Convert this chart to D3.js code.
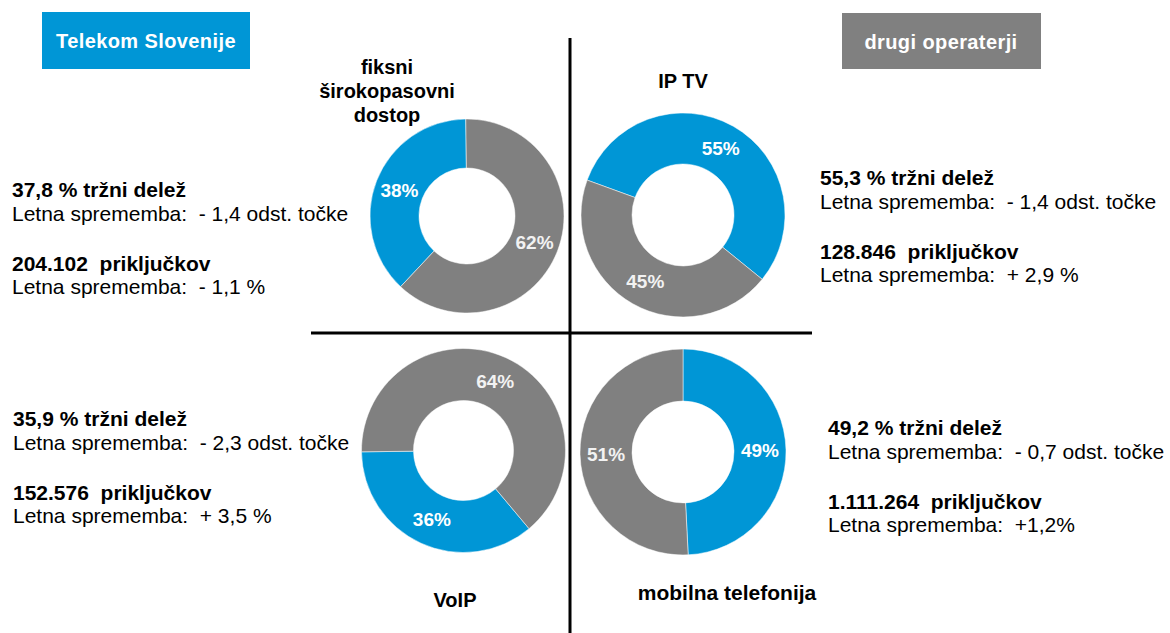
<!DOCTYPE html>
<html>
<head>
<meta charset="utf-8">
<script src="https://cdn.jsdelivr.net/npm/d3@7"></script>
<style>
  body { margin: 0; background: #fff; }
  text { font-family: "Liberation Sans", Arial, sans-serif; white-space: pre; }
</style>
</head>
<body>
<div id="chart"></div>
<script>
// Tržni deleži - Telekom Slovenije vs drugi operaterji

// Pt. 0 - DATA
const titleLines = [["fiksni", "širokopasovni", "dostop"], ["IP TV"], ["VoIP"], ["mobilna telefonija"]];
const telekomShare = [37.8, 55.3, 35.9, 49.2];
const drugiShare = [62.2, 44.7, 64.1, 50.8];
const shareChange = ["- 1,4 odst. točke", "- 1,4 odst. točke", "- 2,3 odst. točke", "- 0,7 odst. točke"];
const connections = ["204.102", "128.846", "152.576", "1.111.264"];
const connChange = ["- 1,1 %", "+ 2,9 %", "+ 3,5 %", "+1,2%"];
const groups = ["Telekom Slovenije", "drugi operaterji"];

// Pt. 1 - TYPE SETTING
const width = 1170, height = 633;
const blue = "#0096d6", gray = "#808080";

// where each donut sits, and where its slices start (degrees, clockwise from top)
const layout = [
    { cx: 467, cy: 216, r: 97, ir: 48, start: -136.8, tx: 387, ty: 74, px: 12, py: 197, fs: 20 },
    { cx: 683, cy: 215, r: 102, ir: 51, start: -70, tx: 683, ty: 88, px: 820, py: 185, fs: 20 },
    { cx: 463.5, cy: 450.5, r: 102, ir: 50, start: 140, tx: 455, ty: 607, px: 13, py: 426, fs: 20 },
    { cx: 683, cy: 452, r: 103, ir: 51, start: 0, tx: 727, ty: 600, px: 828, py: 435, fs: 21 }
];

let svg = d3.select("#chart")
    .append("svg")
    .attr("width", width)
    .attr("height", height)
    .attr("viewBox", [0, 0, width, height]);

const color = d3.scaleOrdinal().domain(groups).range([blue, gray]);
const comma = v => d3.format(".1f")(v).replace(".", ",");

// Pt. 2 - HEADER BOXES
svg.append("rect").attr("x", 42).attr("y", 12).attr("width", 208).attr("height", 57).attr("fill", blue);
svg.append("text").text(groups[0])
    .attr("x", 146).attr("y", 48)
    .attr("text-anchor", "middle")
    .attr("font-size", 20).attr("font-weight", "bold")
    .attr("letter-spacing", 0.4)
    .attr("fill", "white");

svg.append("rect").attr("x", 842).attr("y", 13).attr("width", 199).attr("height", 56).attr("fill", gray);
svg.append("text").text(groups[1])
    .attr("x", 941).attr("y", 49)
    .attr("text-anchor", "middle")
    .attr("font-size", 20).attr("font-weight", "bold")
    .attr("letter-spacing", 0.4)
    .attr("fill", "white");

// Pt. 3 - CROSS LINES
svg.append("line").attr("x1", 570).attr("x2", 570).attr("y1", 38).attr("y2", 633)
    .attr("stroke", "black").attr("stroke-width", 3);
svg.append("line").attr("x1", 311).attr("x2", 812).attr("y1", 333).attr("y2", 333)
    .attr("stroke", "black").attr("stroke-width", 3);

// Pt. 4 - DONUTS
layout.forEach((L, i) => {
    const slices = [
        { name: groups[0], value: telekomShare[i] },
        { name: groups[1], value: drugiShare[i] }
    ];
    const a0 = L.start * Math.PI / 180;
    const pie = d3.pie().sort(null).value(d => d.value)
        .startAngle(a0).endAngle(a0 + 2 * Math.PI);
    const arc = d3.arc().innerRadius(L.ir).outerRadius(L.r);

    let g = svg.append("g").attr("transform", `translate(${L.cx},${L.cy})`);

    g.selectAll("path")
        .data(pie(slices))
        .join("path")
        .attr("d", arc)
        .attr("fill", d => color(d.data.name))
        .attr("stroke", "white")
        .attr("stroke-width", 0.5);

    g.selectAll("text")
        .data(pie(slices))
        .join("text")
        .text(d => Math.round(d.data.value) + "%")
        .attr("x", d => arc.centroid(d)[0])
        .attr("y", d => arc.centroid(d)[1])
        .attr("dy", "0.36em")
        .attr("text-anchor", "middle")
        .attr("font-size", 19).attr("font-weight", "bold")
        .attr("fill", d => d.data.name === groups[0] ? "white" : "#f2f2f2");

    // category title
    svg.append("text")
        .attr("text-anchor", "middle")
        .attr("font-size", L.fs).attr("font-weight", "bold")
        .selectAll("tspan")
        .data(titleLines[i])
        .join("tspan")
        .attr("x", L.tx)
        .attr("y", (d, j) => L.ty + j * 24)
        .text(d => d);

    // side text block
    const lines = [
        { t: `${comma(telekomShare[i])} % tržni delež`, b: true, dy: 0 },
        { t: `Letna sprememba:  ${shareChange[i]}`, b: false, dy: 24 },
        { t: `${connections[i]}  priključkov`, b: true, dy: 74 },
        { t: `Letna sprememba:  ${connChange[i]}`, b: false, dy: 97 }
    ];
    svg.append("g")
        .selectAll("text")
        .data(lines)
        .join("text")
        .attr("x", L.px)
        .attr("y", d => L.py + d.dy)
        .attr("font-size", 21)
        .attr("font-weight", d => d.b ? "bold" : "normal")
        .attr("fill", "black")
        .text(d => d.t);
});
</script>
</body>
</html>
